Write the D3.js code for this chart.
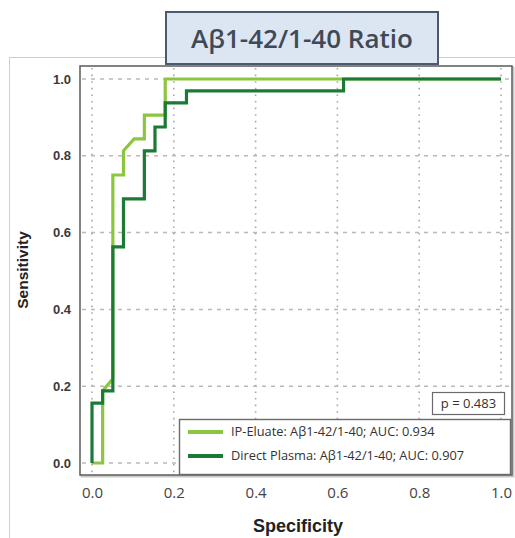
<!DOCTYPE html>
<html>
<head>
<meta charset="utf-8">
<script src="https://cdn.jsdelivr.net/npm/d3@7"></script>
<style>
  html, body { margin: 0; padding: 0; background: #fff; }
  svg { display: block; }
</style>
</head>
<body>
<svg id="chart" width="515" height="538"></svg>
<script>
// ROC data (x = "Specificity" axis, y = Sensitivity)
const ipSpec = [0, 0.026, 0.026, 0.051, 0.051, 0.077, 0.077, 0.103, 0.128, 0.128, 0.179, 0.179, 1.0];
const ipSens = [0, 0, 0.188, 0.219, 0.75, 0.75, 0.813, 0.844, 0.844, 0.906, 0.906, 1.0, 1.0];

const dpSpec = [0, 0, 0.026, 0.026, 0.051, 0.051, 0.077, 0.077, 0.128, 0.128, 0.154, 0.154, 0.179, 0.179, 0.231, 0.231, 0.615, 0.615, 1.0];
const dpSens = [0, 0.156, 0.156, 0.188, 0.188, 0.563, 0.563, 0.688, 0.688, 0.813, 0.813, 0.875, 0.875, 0.938, 0.938, 0.969, 0.969, 1.0, 1.0];

const xTicks = [0, 0.2, 0.4, 0.6, 0.8, 1.0];
const yTicks = [0, 0.2, 0.4, 0.6, 0.8, 1.0];

const seriesNames = ["IP-Eluate: Aβ1-42/1-40; AUC: 0.934", "Direct Plasma: Aβ1-42/1-40; AUC: 0.907"];
const seriesColors = ["#8cc63e", "#1b7a34"];
const titleText = "Aβ1-42/1-40 Ratio";
const pText = "p = 0.483";

const svg = d3.select("#chart");

// outer panel frame
svg.append("rect")
    .attr("x", 9.5).attr("y", 57.5)
    .attr("width", 520).attr("height", 500)
    .attr("fill", "#fff")
    .attr("stroke", "#cfcfcf");

const plot = { left: 80, top: 66, right: 512, bottom: 475 };

const x = d3.scaleLinear().domain([0, 1]).range([92, 501]);
const y = d3.scaleLinear().domain([0, 1]).range([463, 79]);

// plot frame with a soft shadow
svg.append("rect")
    .attr("x", plot.left + 1.5).attr("y", plot.top + 1.5)
    .attr("width", plot.right - plot.left).attr("height", plot.bottom - plot.top)
    .attr("fill", "none")
    .attr("stroke", "#c8c8c8")
    .attr("stroke-width", 2);
svg.append("rect")
    .attr("x", plot.left).attr("y", plot.top)
    .attr("width", plot.right - plot.left).attr("height", plot.bottom - plot.top)
    .attr("fill", "#fff")
    .attr("stroke", "#5a5a5a")
    .attr("stroke-width", 1.5);

// grid
const grid = svg.append("g");
grid.selectAll(".vgrid")
    .data(xTicks)
    .join("line")
    .attr("class", "vgrid")
    .attr("x1", d => x(d)).attr("x2", d => x(d))
    .attr("y1", plot.top + 2).attr("y2", plot.bottom - 2)
    .attr("stroke", "#a9a9a9")
    .attr("stroke-width", 1.6)
    .attr("stroke-dasharray", "1.6,5");
grid.selectAll(".hgrid")
    .data(yTicks)
    .join("line")
    .attr("class", "hgrid")
    .attr("x1", plot.left + 2).attr("x2", plot.right - 2)
    .attr("y1", d => y(d)).attr("y2", d => y(d))
    .attr("stroke", "#bdb8b3")
    .attr("stroke-width", 1.5)
    .attr("stroke-dasharray", "4,5");

// axes (labels only, frame drawn above)
const xAxis = svg.append("g")
    .attr("transform", `translate(0,${plot.bottom})`)
    .call(d3.axisBottom(x).tickValues(xTicks).tickFormat(d3.format(".1f")).tickSize(0).tickPadding(12));
xAxis.select(".domain").remove();
xAxis.selectAll("text")
    .attr("font-family", "'Open Sans', 'Liberation Sans', sans-serif")
    .attr("font-size", 15)
    .attr("fill", "#444");

const yAxis = svg.append("g")
    .attr("transform", `translate(${plot.left},0)`)
    .call(d3.axisLeft(y).tickValues(yTicks).tickFormat(d3.format(".1f")).tickSize(0).tickPadding(9));
yAxis.select(".domain").remove();
yAxis.selectAll("text")
    .attr("font-family", "'Liberation Sans', Arial, sans-serif")
    .attr("font-weight", "bold")
    .attr("font-size", 13)
    .attr("fill", "#3a3a3a");

svg.append("text")
    .attr("x", 298).attr("y", 532)
    .attr("text-anchor", "middle")
    .attr("font-family", "'Liberation Sans', Arial, sans-serif")
    .attr("font-weight", "bold")
    .attr("font-size", 18)
    .attr("fill", "#222")
    .text("Specificity");

svg.append("text")
    .attr("transform", "translate(28,270) rotate(-90)")
    .attr("text-anchor", "middle")
    .attr("font-family", "'Liberation Sans', Arial, sans-serif")
    .attr("font-weight", "bold")
    .attr("font-size", 15.5)
    .attr("fill", "#222")
    .text("Sensitivity");

// ROC curves
const line = d3.line()
    .x(d => x(d[0]))
    .y(d => y(d[1]));

const curves = [
    d3.zip(ipSpec, ipSens),
    d3.zip(dpSpec, dpSens)
];

svg.append("g")
    .selectAll("path")
    .data(curves)
    .join("path")
    .attr("d", line)
    .attr("fill", "none")
    .attr("stroke", (d, i) => seriesColors[i])
    .attr("stroke-width", 3.2)
    .attr("stroke-linejoin", "miter");

// p-value box
svg.append("rect")
    .attr("x", 432.5).attr("y", 392.5)
    .attr("width", 72).attr("height", 22)
    .attr("fill", "#fff")
    .attr("stroke", "#6a6a6a")
    .attr("stroke-width", 1.2);
svg.append("text")
    .attr("x", 468.5).attr("y", 408)
    .attr("text-anchor", "middle")
    .attr("font-family", "'Open Sans', sans-serif")
    .attr("font-size", 13)
    .attr("fill", "#333")
    .text(pText);

// legend
const legend = svg.append("g");
legend.append("rect")
    .attr("x", 179.5).attr("y", 419.5)
    .attr("width", 331).attr("height", 55)
    .attr("fill", "#fff")
    .attr("stroke", "#6a6a6a")
    .attr("stroke-width", 1.4);

const legendItems = legend.selectAll(".legend-item")
    .data(seriesNames)
    .join("g")
    .attr("class", "legend-item")
    .attr("transform", (d, i) => `translate(188,${432 + i * 24})`);

legendItems.append("line")
    .attr("x1", 0).attr("x2", 35)
    .attr("y1", 0).attr("y2", 0)
    .attr("stroke", (d, i) => seriesColors[i])
    .attr("stroke-width", 4);

legendItems.append("text")
    .attr("x", 43)
    .attr("y", 0)
    .attr("dy", "0.35em")
    .attr("font-family", "'Open Sans', sans-serif")
    .attr("font-size", 12.8)
    .attr("fill", "#333")
    .text(d => d);

// title box
svg.append("rect")
    .attr("x", 166).attr("y", 12)
    .attr("width", 272).attr("height", 52)
    .attr("fill", "#dce6f2")
    .attr("stroke", "#4d5a6b")
    .attr("stroke-width", 2);
svg.append("text")
    .attr("x", 302).attr("y", 48)
    .attr("text-anchor", "middle")
    .attr("font-family", "'Open Sans', sans-serif")
    .attr("font-weight", 600)
    .attr("font-size", 26)
    .attr("fill", "#404a57")
    .text(titleText);
</script>
</body>
</html>
